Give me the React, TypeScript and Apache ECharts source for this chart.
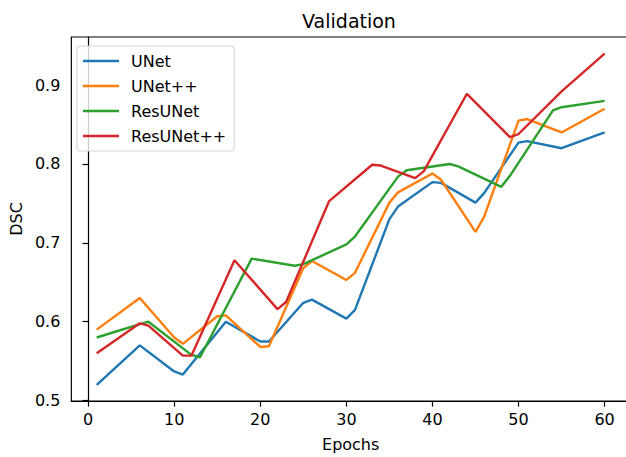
import React, { useEffect, useRef } from "react";
import * as echarts from "echarts";

const seriesNames = ["UNet", "UNet++", "ResUNet", "ResUNet++"];
const colors = ["#1f77b4", "#ff7f0e", "#2ca02c", "#d62728"];

const unetEpochs = [1, 6, 10, 11, 16, 20, 21, 25, 26, 30, 31, 35, 36, 40, 41, 45, 46, 50, 51, 55, 60];
const unetDSC = [0.52, 0.57, 0.537, 0.533, 0.6, 0.575, 0.575, 0.624, 0.628, 0.604, 0.615, 0.73, 0.746, 0.777, 0.776, 0.751, 0.763, 0.827, 0.829, 0.82, 0.84];

const unetppEpochs = [1, 6, 10, 11, 15, 16, 20, 21, 25, 26, 30, 31, 35, 36, 40, 41, 45, 46, 50, 51, 55, 60];
const unetppDSC = [0.59, 0.63, 0.58, 0.572, 0.607, 0.608, 0.568, 0.569, 0.668, 0.677, 0.653, 0.662, 0.751, 0.764, 0.788, 0.78, 0.714, 0.733, 0.855, 0.857, 0.84, 0.87];

const resunetEpochs = [1, 6, 7, 12, 13, 19, 24, 25, 30, 31, 36, 37, 42, 43, 48, 49, 54, 55, 60];
const resunetDSC = [0.58, 0.597, 0.6, 0.558, 0.555, 0.68, 0.671, 0.673, 0.698, 0.708, 0.784, 0.792, 0.8, 0.797, 0.771, 0.785, 0.868, 0.872, 0.88];

const resunetppEpochs = [1, 6, 7, 11, 12, 17, 22, 23, 28, 33, 34, 38, 39, 44, 49, 50, 55, 60];
const resunetppDSC = [0.56, 0.598, 0.595, 0.557, 0.557, 0.678, 0.616, 0.625, 0.753, 0.799, 0.798, 0.782, 0.791, 0.889, 0.834, 0.838, 0.892, 0.94];

const xTicks = [0, 10, 20, 30, 40, 50, 60];
const yTicks = [0.5, 0.6, 0.7, 0.8, 0.9];

const FONT = "DejaVu Sans";

function pairs(xs: number[], ys: number[]) {
  return xs.map((x, i) => [x, ys[i]]);
}

export default function App() {
  const ref = useRef<HTMLDivElement>(null);
  useEffect(() => {
    if (!ref.current) return;
    const chart = echarts.init(ref.current, null, { renderer: "svg" });
    const allData = [
      pairs(unetEpochs, unetDSC),
      pairs(unetppEpochs, unetppDSC),
      pairs(resunetEpochs, resunetDSC),
      pairs(resunetppEpochs, resunetppDSC),
    ];
    chart.setOption({
      animation: false,
      backgroundColor: "#ffffff",
      title: {
        text: "Validation",
        left: 349,
        top: 11,
        textAlign: "center",
        padding: 0,
        textStyle: { fontFamily: FONT, fontSize: 19, fontWeight: "normal", color: "#000" },
      },
      legend: {
        data: seriesNames,
        orient: "vertical",
        left: 77,
        top: 46,
        icon: "rect",
        itemWidth: 36,
        itemHeight: 2.4,
        itemGap: 9,
        padding: [7, 8, 7, 6],
        backgroundColor: "rgba(255,255,255,0.8)",
        borderColor: "#d3d3d3",
        borderWidth: 1,
        borderRadius: 3,
        textStyle: { fontFamily: FONT, fontSize: 16, color: "#000", lineHeight: 16, padding: [0, 0, 0, 7] },
      },
      grid: {
        left: 69,
        top: 37,
        right: 2,
        bottom: 56,
        show: true,
        borderColor: "#000",
        borderWidth: 1.2,
        backgroundColor: "transparent",
      },
      xAxis: {
        type: "value",
        min: -1.95,
        max: 62.95,
        name: "Epochs",
        nameLocation: "middle",
        nameGap: 35,
        nameTextStyle: { fontFamily: FONT, fontSize: 16, color: "#000" },
        axisLine: { show: true, lineStyle: { color: "#000", width: 1.2 } },
        axisTick: { show: true, length: 5.6, lineStyle: { color: "#000", width: 1.2 }, customValues: xTicks },
        axisLabel: { fontFamily: FONT, fontSize: 16, color: "#000", margin: 10, customValues: xTicks },
        splitLine: { show: false },
      },
      yAxis: {
        type: "value",
        min: 0.4995,
        max: 0.961,
        name: "DSC",
        nameLocation: "middle",
        nameGap: 45,
        nameTextStyle: { fontFamily: FONT, fontSize: 16, color: "#000" },
        axisLine: { show: true, lineStyle: { color: "#000", width: 1.2 } },
        axisTick: { show: true, length: 5.6, lineStyle: { color: "#000", width: 1.2 }, customValues: yTicks },
        axisLabel: {
          fontFamily: FONT,
          fontSize: 16,
          color: "#000",
          margin: 11,
          customValues: yTicks,
          formatter: (v: number) => v.toFixed(1),
        },
        splitLine: { show: false },
      },
      series: seriesNames.map((name, i) => ({
        name,
        type: "line",
        data: allData[i],
        showSymbol: false,
        symbol: "none",
        color: colors[i],
        lineStyle: { width: 2.4, color: colors[i] },
        z: 2 + i,
      })),
    });
    return () => chart.dispose();
  }, []);
  return (
    <div style={{ position: "fixed", left: 0, top: 0, width: 626, height: 457, overflow: "hidden", background: "#fff" }}>
      <div ref={ref} style={{ width: 632, height: 457 }} />
    </div>
  );
}
